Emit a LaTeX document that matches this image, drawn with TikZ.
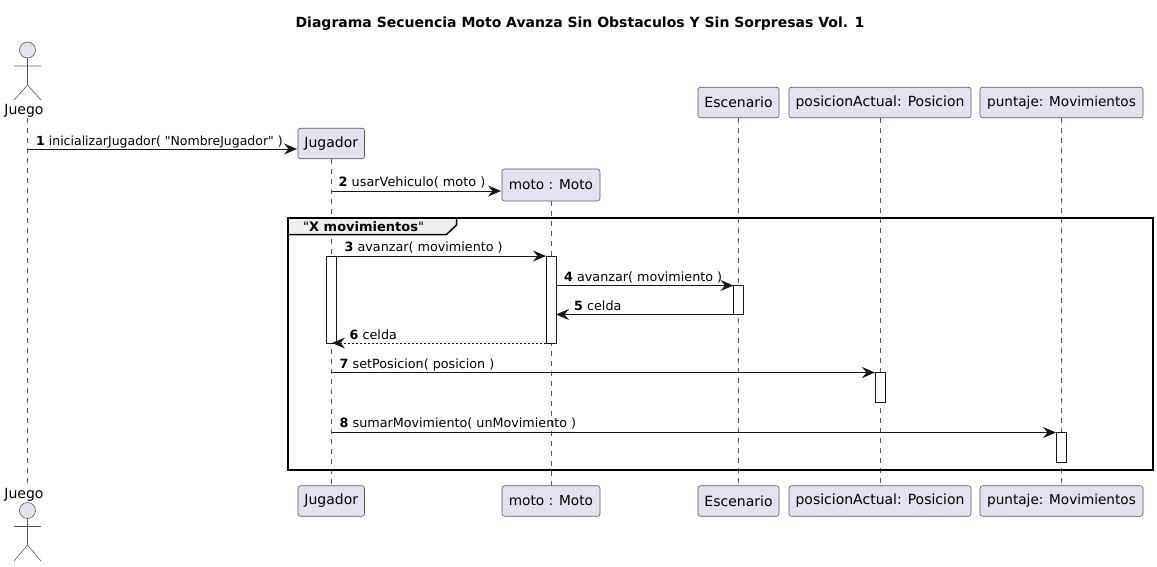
\documentclass[tikz,border=0pt]{standalone}
\usepackage{fontspec}
\setmainfont{DejaVu Sans}
\newfontfamily\plainf{DejaVu Sans}
\usetikzlibrary{arrows.meta,calc}
\definecolor{partfill}{HTML}{E2E2F0}
\definecolor{ink}{HTML}{181818}
\definecolor{soft}{HTML}{5A5A5A}
\definecolor{tabfill}{HTML}{EEEEEE}
\tikzset{
  part/.style={draw=soft,fill=partfill,line width=.6pt,rounded corners=2.5pt,minimum height=30.5pt,inner sep=0pt,outer sep=0pt,font=\fontsize{14}{16}\selectfont,text=black},
  life/.style={draw=soft,line width=.5pt,dash pattern=on 5pt off 5pt},
  act/.style={draw=ink,fill=white,line width=.7pt,minimum width=10pt,inner sep=0pt,outer sep=0pt},
  actorline/.style={draw=soft,line width=.6pt},
  msg/.style={draw=ink,line width=1pt,-{Stealth[length=13pt,width=11pt,inset=4.5pt]}},
  ret/.style={msg,dash pattern=on 2pt off 2pt},
  lab/.style={anchor=base west,inner sep=0pt,font=\plainf\fontsize{12.75}{15}\selectfont,text=black},
  actlab/.style={inner sep=0pt,font=\fontsize{14}{16}\selectfont,text=black},
  frm/.style={draw=black,line width=2pt},
}
\begin{document}
\begin{tikzpicture}[x=1pt,y=-1pt]
\useasboundingbox[fill=white] (0,0) rectangle (1157,566);
\node[font=\fontsize{14}{16}\selectfont\bfseries,anchor=base] (title) at (580,27) {Diagrama Secuencia Moto Avanza Sin Obstaculos Y Sin Sorpresas Vol. 1};
% participants
\node[part,minimum width=66.5pt] (jugT) at (331.25,143.5) {Jugador};
\node[part,minimum width=66.5pt] (jugB) at (331.25,501) {Jugador};
\node[part,minimum width=98pt,minimum height=32pt,font=\fontsize{13.7}{16}\selectfont] (motoT) at (551,185) {moto : Moto};
\node[part,minimum width=98pt,font=\fontsize{13.7}{16}\selectfont] (motoB) at (551,501) {moto : Moto};
\node[part,minimum width=81pt] (escT) at (738.5,102.5) {Escenario};
\node[part,minimum width=81pt] (escB) at (738.5,501) {Escenario};
\node[part,minimum width=182pt] (posT) at (880,102.5) {posicionActual: Posicion};
\node[part,minimum width=182pt] (posB) at (880,501) {posicionActual: Posicion};
\node[part,minimum width=163pt,font=\fontsize{13.6}{16}\selectfont] (punT) at (1061.5,102.5) {puntaje: Movimientos};
\node[part,minimum width=163pt,font=\fontsize{13.6}{16}\selectfont] (punB) at (1061.5,501) {puntaje: Movimientos};
% actor
\node[actlab] (juegoT) at (24,111) {Juego};
\node[actlab] (juegoB) at (24,495) {Juego};
\coordinate (lifeA) at (27.5,118);
\coordinate (lifeB) at (27.5,483);
\draw[actorline,fill=partfill] (27.5,50) circle (8pt);
\draw[actorline] (27.5,58) -- (27.5,85) (14,66) -- (41,66) (14,100) -- (27.5,85) -- (41,100);
\draw[actorline,fill=partfill] (27.5,510.5) circle (8pt);
\draw[actorline] (27.5,518.5) -- (27.5,545) (14,526.5) -- (41,526.5) (14,561) -- (27.5,545) -- (41,561);
% lifelines
\draw[life] (lifeA) -- (lifeB);
\draw[life] (jugT.south) -- (jugB.north);
\draw[life] (motoT.south) -- (motoB.north);
\draw[life] (escT.south) -- (escB.north);
\draw[life] (posT.south) -- (posB.north);
\draw[life] (punT.south) -- (punB.north);
% group
\draw[line width=1.5pt,fill=tabfill,draw=black] (288,218) -- (456.5,218) -- (456.5,225) -- (446.5,234.5) -- (288,234.5) -- cycle;
\draw[frm] (288,218) rectangle (1153,470);
\node[lab,font=\plainf\fontsize{13}{15}\selectfont\bfseries,anchor=base west] (grp) at (303,231) {\mdseries"\bfseries X movimientos\mdseries"};
% activations
\node[act,minimum height=87pt] (aJug) at (331.5,299.5) {};
\node[act,minimum height=87pt] (aMoto) at (551,299.5) {};
\node[act,minimum height=29pt] (aEsc) at (738.5,300) {};
\node[act,minimum height=30pt] (aPos) at (880,387.5) {};
\node[act,minimum height=30pt] (aPun) at (1061,447.5) {};
% message ends
\coordinate (m1s) at (27.5,149);
\coordinate (m1e) at (297,149);
\coordinate (m2s) at (331.5,191);
\coordinate (m2e) at (501,191);
\coordinate (m3s) at (331.5,256);
\coordinate (m7s) at (331.5,372.5);
\coordinate (m8s) at (331.5,432.5);
\draw[msg] (m1s) -- (m1e);
\draw[msg] (m2s) -- (m2e);
\draw[msg] (m3s) -- (aMoto.north west);
\draw[msg] (aEsc.north -| aMoto.east) -- (aEsc.north west);
\draw[msg] (aEsc.south west) -- (aEsc.south -| aMoto.east);
\draw[ret] (aMoto.south west) -- ($(aJug.south east)+(-4.5,0)$);
\draw[msg] (m7s) -- (aPos.north west);
\draw[msg] (m8s) -- (aPun.north west);
% labels
\node[lab,font=\plainf\fontsize{12.5}{15}\selectfont] (l1) at (36,145) {\textbf{1} inicializarJugador( "NombreJugador" )};
\node[lab,font=\plainf\fontsize{12.85}{15}\selectfont] (l2) at (338.5,186) {\textbf{2} usarVehiculo( moto )};
\node[lab] (l3) at (344.5,251) {\textbf{3} avanzar( movimiento )};
\node[lab] (l4) at (564,281) {\textbf{4} avanzar( movimiento )};
\node[lab] (l5) at (574,310) {\textbf{5} celda};
\node[lab] (l6) at (349.5,339) {\textbf{6} celda};
\node[lab] (l7) at (339.5,368) {\textbf{7} setPosicion( posicion )};
\node[lab] (l8) at (339.5,427.5) {\textbf{8} sumarMovimiento( unMovimiento )};
\end{tikzpicture}
\end{document}
